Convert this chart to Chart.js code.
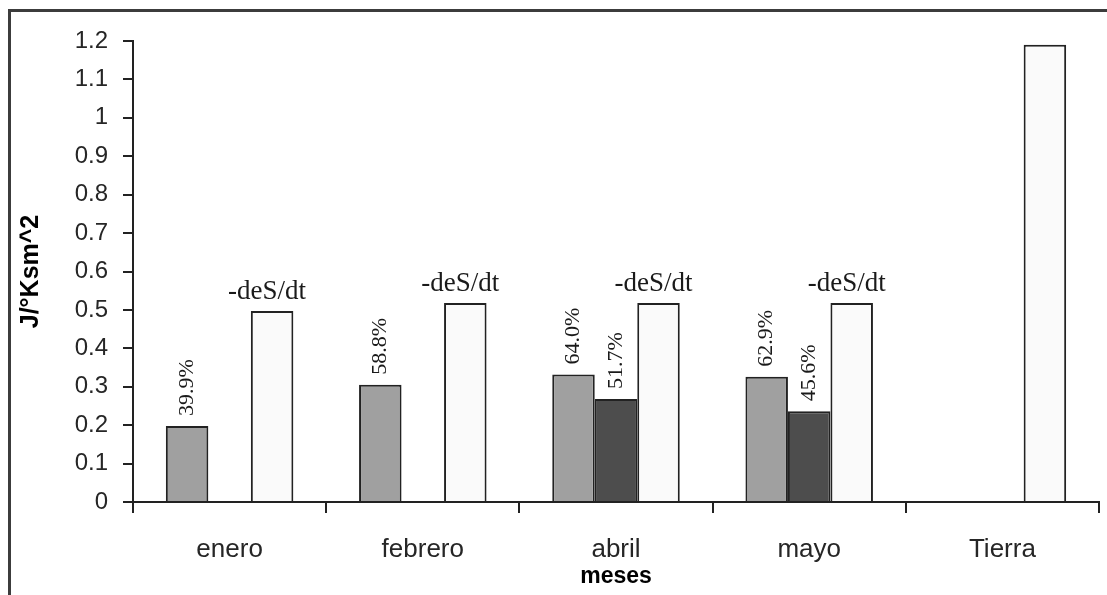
<!DOCTYPE html>
<html>
<head>
<meta charset="utf-8">
<script src="https://cdn.jsdelivr.net/npm/chart.js@4.4.1/dist/chart.umd.min.js"></script>
<style>
  html, body { margin: 0; padding: 0; background: #ffffff; overflow: hidden; }
  #wrap { position: relative; width: 1107px; height: 595px; }
</style>
</head>
<body>
<div id="wrap"><canvas id="chart"></canvas></div>
<script>
// Categories and series
const months = ['enero', 'febrero', 'abril', 'mayo', 'Tierra'];
const seriesLight = [0.198, 0.305, 0.332, 0.326, null];
const seriesDark = [null, null, 0.268, 0.236, null];
const seriesWhite = [0.497, 0.518, 0.518, 0.518, 1.19];

// Labels written above the bars
const pctLight = ['39.9%', '58.8%', '64.0%', '62.9%', null];
const pctDark = [null, null, '51.7%', '45.6%', null];
const whiteLabels = ['-deS/dt', '-deS/dt', '-deS/dt', '-deS/dt', null];

// Value axis ticks
const yTicks = [0, 0.1, 0.2, 0.3, 0.4, 0.5, 0.6, 0.7, 0.8, 0.9, 1, 1.1, 1.2];

const INK = '#262626';
const SANS = "'Liberation Sans', Arial, sans-serif";
const SERIF = "'Liberation Serif', 'DejaVu Serif', serif";

// Outer frame (top and left edges of the chart box)
const framePlugin = {
  id: 'frame',
  beforeDraw(chart) {
    const ctx = chart.ctx;
    ctx.save();
    ctx.strokeStyle = '#3c3c3c';
    ctx.lineWidth = 3;
    ctx.beginPath();
    ctx.moveTo(9.5, chart.height);
    ctx.lineTo(9.5, 10.5);
    ctx.lineTo(chart.width, 10.5);
    ctx.stroke();
    ctx.restore();
  }
};

// Text labels above bars
const barLabelPlugin = {
  id: 'barLabels',
  afterDatasetsDraw(chart) {
    const ctx = chart.ctx;
    const rotatedSets = [[0, pctLight], [1, pctDark]];
    ctx.save();
    ctx.fillStyle = '#1a1a1a';
    // percentages, written vertically
    ctx.font = '22px ' + SERIF;
    ctx.textAlign = 'left';
    ctx.textBaseline = 'middle';
    rotatedSets.forEach(([di, texts]) => {
      const meta = chart.getDatasetMeta(di);
      meta.data.forEach((bar, i) => {
        if (!texts[i]) return;
        ctx.save();
        ctx.translate(bar.x, bar.y - 10);
        ctx.rotate(-Math.PI / 2);
        ctx.fillText(texts[i], 0, 0);
        ctx.restore();
      });
    });
    // names above the white bars
    ctx.font = '27px ' + SERIF;
    ctx.textAlign = 'center';
    ctx.textBaseline = 'bottom';
    const metaW = chart.getDatasetMeta(2);
    metaW.data.forEach((bar, i) => {
      if (!whiteLabels[i]) return;
      ctx.fillText(whiteLabels[i], bar.x - 5, bar.y - 6);
    });
    ctx.restore();
  }
};

const common = {
  borderColor: '#222222',
  borderWidth: 2,
  barPercentage: 1.0,
  categoryPercentage: 0.66
};

new Chart(document.getElementById('chart'), {
  type: 'bar',
  data: {
    labels: months,
    datasets: [
      Object.assign({ data: seriesLight, backgroundColor: '#a0a0a0' }, common),
      Object.assign({ data: seriesDark, backgroundColor: '#4d4d4d' }, common),
      Object.assign({ data: seriesWhite, backgroundColor: '#fafafa' }, common)
    ]
  },
  options: {
    responsive: true,
    maintainAspectRatio: false,
    animation: false,
    devicePixelRatio: 1,
    layout: { padding: { left: 12, top: 41, right: 8, bottom: 0 } },
    plugins: {
      legend: { display: false },
      tooltip: { enabled: false }
    },
    scales: {
      x: {
        offset: true,
        grid: { offset: true, drawOnChartArea: false, drawTicks: true, tickLength: 11, color: '#222222', lineWidth: 2 },
        border: { color: '#222222', width: 2 },
        ticks: { font: { family: SANS, size: 26 }, color: INK, padding: 21, maxRotation: 0 },
        title: { display: true, text: 'meses', color: '#000', font: { family: SANS, size: 23, weight: 'bold' }, padding: { top: 0, bottom: 5 } },
        afterFit(scale) { scale.height = 93; }
      },
      y: {
        min: 0,
        max: 1.2,
        afterBuildTicks(scale) { scale.ticks = yTicks.map(v => ({ value: v })); },
        grid: { drawOnChartArea: false, drawTicks: true, tickLength: 10, color: '#222222', lineWidth: 2 },
        border: { color: '#222222', width: 2 },
        ticks: {
          font: { family: SANS, size: 24 },
          color: INK,
          padding: 15,
          callback: v => String(Number(v.toFixed(1)))
        },
        title: { display: true, text: 'J/°Ksm^2', color: '#000', font: { family: SANS, size: 25, weight: 'bold' }, padding: { top: 4, bottom: 0 } },
        afterFit(scale) { scale.width = 121; }
      }
    }
  },
  plugins: [framePlugin, barLabelPlugin]
});
</script>
</body>
</html>
